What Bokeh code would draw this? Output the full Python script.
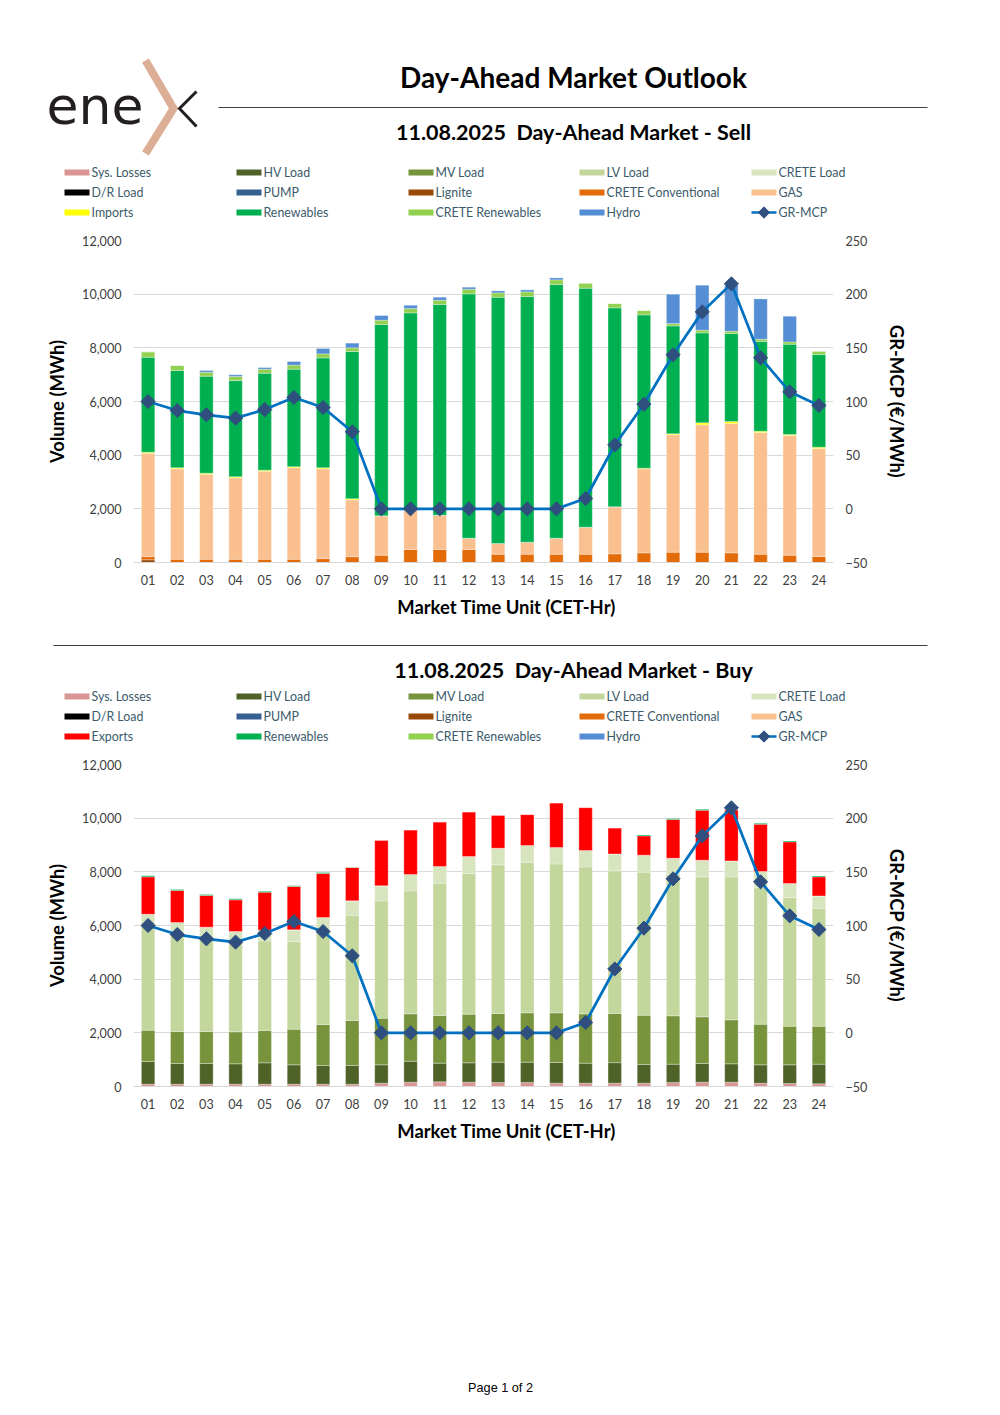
from bokeh.plotting import figure
from bokeh.models import Range1d, FactorRange, LinearAxis, NumeralTickFormatter, FixedTicker, ColumnDataSource
from bokeh.layouts import column
from bokeh.embed import file_html
from bokeh.resources import INLINE
from bokeh.core.properties import value
import math

# ---------------- data ----------------
hours = ["01", "02", "03", "04", "05", "06", "07", "08", "09", "10", "11", "12",
         "13", "14", "15", "16", "17", "18", "19", "20", "21", "22", "23", "24"]

gr_mcp = [100.0, 91.6, 87.6, 84.5, 92.5, 103.7, 94.4, 71.8, 0.0, 0.0, 0.0, 0.0,
          0.0, 0.0, 0.0, 9.6, 59.5, 97.5, 143.5, 183.5, 209.6, 140.7, 109.0, 96.3]

# Sell side (MWh)
sell_lignite = [100, 0, 0, 0, 0, 0, 0, 0, 0, 0, 0, 0, 0, 0, 0, 0, 0, 0, 0, 0, 0, 0, 0, 0]
sell_crete_conv = [120, 120, 120, 120, 120, 120, 145, 215, 273, 484, 484, 484,
                   310, 310, 310, 310, 323, 360, 385, 385, 360, 310, 273, 224]
sell_gas = [3850, 3370, 3170, 3035, 3280, 3410, 3345, 2120, 1466, 1466, 1280, 423,
            398, 448, 597, 1007, 1751, 3130, 4372, 4744, 4819, 4534, 4459, 4024]
sell_imports = [40, 40, 40, 40, 40, 40, 40, 40, 0, 0, 0, 0,
                0, 0, 0, 0, 0, 25, 37, 75, 75, 49, 37, 49]
sell_renewables = [3540, 3625, 3615, 3585, 3615, 3635, 4095, 5490, 7129, 7353, 7849, 9103,
                   9178, 9153, 9451, 8905, 7415, 5713, 4024, 3353, 3279, 3341, 3366, 3453]
sell_crete_ren = [200, 185, 145, 150, 150, 150, 150, 135, 162, 161, 162, 174,
                  162, 174, 174, 186, 161, 162, 87, 100, 86, 87, 87, 124]
sell_hydro = [0, 0, 65, 65, 60, 135, 200, 175, 173, 124, 111, 75,
              74, 75, 75, 0, 0, 0, 1093, 1676, 1710, 1503, 956, 0]

# Buy side (MWh)
buy_sys_losses = [85, 85, 85, 85, 85, 85, 85, 85, 124, 161, 174, 161,
                  150, 150, 124, 124, 124, 124, 150, 161, 161, 124, 110, 100]
buy_hv_load = [847, 772, 772, 760, 797, 722, 697, 697, 684, 783, 696, 721,
               757, 757, 771, 746, 765, 696, 682, 696, 684, 683, 697, 732]
buy_mv_load = [1167, 1192, 1192, 1192, 1205, 1329, 1528, 1677, 1738, 1764, 1776, 1813,
               1813, 1838, 1850, 1838, 1831, 1838, 1801, 1739, 1639, 1516, 1441, 1416]
buy_lv_load = [3902, 3661, 3498, 3358, 3338, 3271, 3507, 3919, 4371, 4581, 4931, 5245,
               5540, 5615, 5550, 5475, 5319, 5331, 5265, 5217, 5324, 5088, 4796, 4396]
buy_crete_load = [420, 400, 390, 380, 400, 430, 480, 540, 560, 610, 620, 630,
                  620, 620, 610, 610, 630, 630, 610, 620, 600, 600, 520, 460]
buy_dr_load = [0] * 24
buy_pump = [0] * 24
buy_exports = [1391, 1193, 1180, 1180, 1416, 1615, 1639, 1242, 1701, 1664, 1664, 1664,
               1230, 1154, 1664, 1602, 969, 721, 1440, 1863, 1900, 1764, 1552, 708]
buy_renewables = [38, 37, 37, 38, 37, 25, 38, 15, 0, 0, 0, 0,
                  0, 0, 0, 0, 0, 37, 37, 37, 0, 37, 37, 37]

left_ticks = [0, 2000, 4000, 6000, 8000, 10000, 12000]
right_ticks = [-50, 0, 50, 100, 150, 200, 250]

# colours / legend
COL = {
    "Sys. Losses": "#DA9694", "HV Load": "#4F6228", "MV Load": "#77933C",
    "LV Load": "#C3D69B", "CRETE Load": "#D7E4BD", "D/R Load": "#000000",
    "PUMP": "#376092", "Lignite": "#984807", "CRETE Conventional": "#E36C09",
    "GAS": "#FAC090", "Imports": "#FFFF00", "Exports": "#FF0000",
    "Renewables": "#00B050", "CRETE Renewables": "#92D050", "Hydro": "#558ED5",
}
LINE_COL = "#0070C0"
MARK_COL = "#2F4F7F"

sell_legend = ["Sys. Losses", "HV Load", "MV Load", "LV Load", "CRETE Load",
               "D/R Load", "PUMP", "Lignite", "CRETE Conventional", "GAS",
               "Imports", "Renewables", "CRETE Renewables", "Hydro", "GR-MCP"]
buy_legend = ["Sys. Losses", "HV Load", "MV Load", "LV Load", "CRETE Load",
              "D/R Load", "PUMP", "Lignite", "CRETE Conventional", "GAS",
              "Exports", "Renewables", "CRETE Renewables", "Hydro", "GR-MCP"]

sell_stack = {"Lignite": sell_lignite, "CRETE Conventional": sell_crete_conv, "GAS": sell_gas,
              "Imports": sell_imports, "Renewables": sell_renewables,
              "CRETE Renewables": sell_crete_ren, "Hydro": sell_hydro}
buy_stack = {"Sys. Losses": buy_sys_losses, "HV Load": buy_hv_load, "MV Load": buy_mv_load,
             "LV Load": buy_lv_load, "CRETE Load": buy_crete_load, "D/R Load": buy_dr_load,
             "PUMP": buy_pump, "Exports": buy_exports, "Renewables": buy_renewables}

W = 1000
FONT = "Lato"
TXT = "#404040"
LEG_TXT = "#3B5A6A"
XTITLE = "Market Time Unit (CET-Hr)"


def blank(h):
    p = figure(width=W, height=h, x_range=Range1d(0, W), y_range=Range1d(h, 0),
               output_backend="svg", toolbar_location=None, min_border=0, frame_align=False)
    p.axis.visible = False
    p.grid.visible = False
    p.outline_line_color = None
    p.background_fill_color = "white"
    p.border_fill_color = "white"
    return p


def bold_text(p, x, y, txt, size):
    p.text(x=[x], y=[y], text=[txt], text_font=value(FONT), text_font_style="bold",
           text_font_size=size, text_color="#000000", text_align="center", text_baseline="middle")


def draw_legend(p, y0, names):
    cols = [64, 236, 408, 579, 751]
    for i, name in enumerate(names):
        r, c = divmod(i, 5)
        x = cols[c]
        y = y0 + r * 20
        if name == "GR-MCP":
            p.line(x=[x, x + 25], y=[y, y], line_color=LINE_COL, line_width=2.5)
            p.scatter(x=[x + 12.5], y=[y], marker="square", angle=math.pi / 4, size=8,
                      fill_color=MARK_COL, line_color=MARK_COL)
        else:
            p.rect(x=[x + 12.5], y=[y], width=25, height=6, fill_color=COL[name], line_color=None)
        p.text(x=[x + 27], y=[y], text=[name], text_font=value(FONT), text_font_size="12.4px",
               text_color=LEG_TXT, text_baseline="middle", text_align="left")


def chart(stack, mcp):
    names = list(stack.keys())
    data = dict(hour=hours, **stack)
    src = ColumnDataSource(data)
    p = figure(width=W, height=364, x_range=FactorRange(*hours, range_padding=0),
               y_range=Range1d(0, 12000), output_backend="svg", toolbar_location=None,
               min_border_left=133, min_border_right=167, min_border_top=12, min_border_bottom=30,
               frame_align=False)
    p.outline_line_color = None
    p.background_fill_color = "white"
    p.extra_y_ranges = {"mcp": Range1d(-50, 250)}
    p.vbar_stack(stackers=names, x="hour", width=0.46, color=[COL[n] for n in names],
                 line_color="white", line_width=0.6, line_alpha=0.5, source=src)
    p.line(x=hours, y=mcp, y_range_name="mcp", line_color=LINE_COL, line_width=2.75)
    p.scatter(x=hours, y=mcp, y_range_name="mcp", marker="square", angle=math.pi / 4,
              size=10, fill_color=MARK_COL, line_color=MARK_COL)

    p.xgrid.visible = False
    p.ygrid.grid_line_color = "#D9D9D9"
    p.ygrid.ticker = FixedTicker(ticks=left_ticks)

    ya = p.yaxis[0]
    ya.ticker = FixedTicker(ticks=left_ticks)
    ya.formatter = NumeralTickFormatter(format="0,0")
    ya.axis_label = "Volume (MWh)"
    ya.axis_label_standoff = 11

    ra = LinearAxis(y_range_name="mcp", ticker=FixedTicker(ticks=right_ticks),
                    axis_label="GR-MCP (€/MWh)", axis_label_standoff=16)
    p.add_layout(ra, "right")

    xa = p.xaxis[0]

    for ax in [ya, ra, xa]:
        ax.major_tick_line_color = None
        ax.minor_tick_line_color = None
        ax.major_tick_out = 0
        ax.major_tick_in = 0
        ax.minor_tick_out = 0
        ax.minor_tick_in = 0
        ax.major_label_standoff = 12
        ax.major_label_text_font = FONT
        ax.major_label_text_font_size = "12.6px"
        ax.major_label_text_color = TXT
        ax.axis_label_text_font = FONT
        ax.axis_label_text_font_style = "bold"
        ax.axis_label_text_font_size = "18.4px"
        ax.axis_label_text_color = "#000000"
    ya.axis_line_color = None
    ra.axis_line_color = None
    xa.axis_line_color = "#D9D9D9"
    return p


# ---------------- header ----------------
head = blank(228)
head.text(x=[46], y=[105], text=["ene"], text_font=value("DejaVu Sans"), text_font_size="52px",
          text_color="#231F20", text_baseline="middle", text_align="left")
head.line(x=[145, 173, 145], y=[60, 108, 153], line_color="#DDAE96", line_width=8, line_join="miter")
head.line(x=[196, 179, 196], y=[91, 108, 126], line_color="#231F20", line_width=3, line_join="miter")
bold_text(head, 573, 76, "Day-Ahead Market Outlook", "28px")
head.line(x=[218, 927], y=[107, 107], line_color="#404040", line_width=1)
bold_text(head, 573, 131, "11.08.2025\u00a0 Day-Ahead Market - Sell", "21.5px")
draw_legend(head, 172, sell_legend)

sell_p = chart(sell_stack, gr_mcp)   # page y 228 .. 592

mid = blank(160)                     # page y 592 .. 752
bold_text(mid, 506, 14, XTITLE, "18.4px")
mid.line(x=[53, 927], y=[53, 53], line_color="#404040", line_width=1)
bold_text(mid, 573, 77, "11.08.2025\u00a0 Day-Ahead Market - Buy", "21.5px")
draw_legend(mid, 104, buy_legend)

buy_p = chart(buy_stack, gr_mcp)     # page y 752 .. 1116

foot = blank(299)                    # page y 1116 .. 1415
bold_text(foot, 506, 14, XTITLE, "18.4px")
foot.text(x=[500], y=[271], text=["Page 1 of 2"], text_font=value("Liberation Sans"),
          text_font_size="12.7px", text_color="#000000", text_align="center", text_baseline="middle")

layout = column(head, sell_p, mid, buy_p, foot, spacing=0)
open("out.html", "w").write(file_html(layout, INLINE))
